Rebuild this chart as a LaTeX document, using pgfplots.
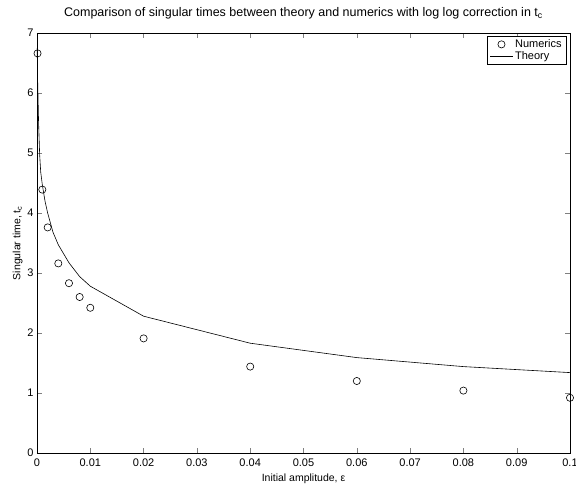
\documentclass[border=0pt]{standalone}
\usepackage{fontspec}
\setmainfont{Liberation Sans}
\usepackage{pgfplots}
\pgfplotsset{compat=1.18}
\pgfplotsset{
  markleg/.style={legend image code/.code={\draw[#1,only marks] plot coordinates {(0.4cm,0cm)};}},
  lineleg/.style={legend image code/.code={\draw[#1] (0cm,0cm) -- (0.8cm,0cm);}},
}
\begin{document}
\begin{tikzpicture}
\begin{axis}[
  name=ax,
  scale only axis,
  width=533pt, height=420pt,
  xmin=0, xmax=0.1, ymin=0, ymax=7,
  xtick={0,0.01,0.02,0.03,0.04,0.05,0.06,0.07,0.08,0.09,0.1},
  xticklabels={0,0.01,0.02,0.03,0.04,0.05,0.06,0.07,0.08,0.09,0.1},
  ytick={0,1,2,3,4,5,6,7},
  tick align=inside,
  tick pos=both,
  major tick length=5pt,
  /pgf/number format/assume math mode=true,
  tick label style={font=\fontsize{11}{12}\selectfont},
  xticklabel style={yshift=-2pt},
  label style={font=\fontsize{10.5}{12}\selectfont},
  title style={font=\fontsize{12.5}{14}\selectfont, yshift=4pt},
  title={Comparison of singular times between theory and numerics with log log correction in t\textsubscript{c}},
  xlabel={Initial amplitude, ε},
  ylabel={Singular time, t\textsubscript{c}},
  xlabel style={yshift=-1pt},
  ylabel style={yshift=-2pt},
  axis line style={line width=0.6pt},
  legend style={at={(rel axis cs:0.994,0.993)}, anchor=north east, draw=black, fill=white,
    font=\fontsize{11}{12}\selectfont, inner xsep=3pt, inner ysep=1.5pt, row sep=-2pt, legend cell align=left},
]
\addplot[only marks, mark=o, mark size=3.6pt, line width=0.6pt, markleg] coordinates {
  (0.0001,6.66) (0.001,4.39) (0.002,3.76) (0.004,3.16) (0.006,2.83)
  (0.008,2.60) (0.01,2.42) (0.02,1.91) (0.04,1.44) (0.06,1.20)
  (0.08,1.04) (0.1,0.92)
};
\addlegendentry{Numerics}
\addplot[black, line width=0.6pt, lineleg] coordinates {
  (0.00003,6.75) (0.0001,6.3) (0.0002,5.9) (0.0003,5.5) (0.0005,4.97)
  (0.0007,4.68) (0.001,4.47) (0.0015,4.2) (0.002,4.0) (0.003,3.68)
  (0.004,3.47) (0.006,3.17) (0.008,2.94) (0.01,2.78) (0.02,2.28)
  (0.04,1.83) (0.06,1.59) (0.08,1.44) (0.1,1.34)
};
\addlegendentry{Theory}
\end{axis}
\pgfresetboundingbox
\path ([shift={(-37pt,-31pt)}]ax.south west) rectangle ([shift={(6pt,33pt)}]ax.north east);
\end{tikzpicture}
\end{document}
